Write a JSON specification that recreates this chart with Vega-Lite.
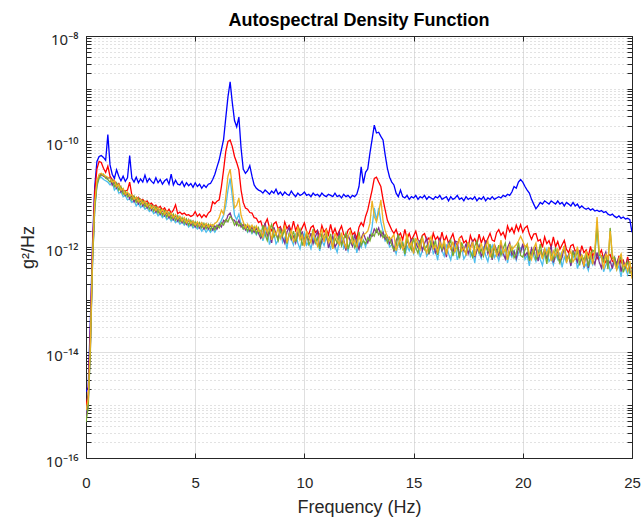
{
"$schema": "https://vega.github.io/schema/vega-lite/v6.json",
"width": 546, "height": 422,
"autosize": {"type": "none"},
"padding": {"left": 86, "top": 36, "right": 12, "bottom": 59},
"background": "white",
"config": {"view": {"stroke": "#262626", "strokeWidth": 1}, "font": "Liberation Sans"},
"title": {"text": "Autospectral Density Function", "font": "Liberation Sans", "fontSize": 18, "fontWeight": "bold", "color": "#000000", "offset": 3, "dy": 15, "baseline": "alphabetic", "anchor": "middle"},
"data": {"values": [
{"f":0.0,"s1":0.0018e-12,"s2":0.0010e-12,"s3":0.0007e-12,"s4":0.0006e-12,"s5":0.00048e-12,"s6":0.0008e-12},
{"f":0.1,"s1":0.0022e-12,"s2":0.0016e-12,"s3":0.0012e-12,"s4":0.0011e-12,"s5":0.0009e-12,"s6":0.0013e-12},
{"f":0.2,"s1":0.04e-12,"s2":0.025e-12,"s3":0.015e-12,"s4":0.012e-12,"s5":0.01e-12,"s6":0.014e-12},
{"f":0.3,"s1":1.2e-12,"s2":0.9e-12,"s3":0.5e-12,"s4":0.6e-12,"s5":0.5e-12,"s6":0.7e-12},
{"f":0.4,"s1":14e-12,"s2":11e-12,"s3":5e-12,"s4":6e-12,"s5":5.5e-12,"s6":7e-12},
{"f":0.5,"s1":42e-12,"s2":30e-12,"s3":14e-12,"s4":16e-12,"s5":15e-12,"s6":18e-12},
{"f":0.6,"s1":52e-12,"s2":42e-12,"s3":20e-12,"s4":22e-12,"s5":21e-12,"s6":24e-12},
{"f":0.7,"s1":54e-12,"s2":40e-12,"s3":21e-12,"s4":24e-12,"s5":23e-12,"s6":25e-12},
{"f":0.8,"s1":50e-12,"s2":31e-12,"s3":19e-12,"s4":22e-12,"s5":24e-12,"s6":23e-12},
{"f":0.9,"s1":44e-12,"s2":26e-12,"s3":18e-12,"s4":21e-12,"s5":20e-12,"s6":22e-12},
{"f":1.0,"s1":135e-12,"s2":34e-12,"s3":17e-12,"s4":20e-12,"s5":19e-12,"s6":21e-12},
{"f":1.1,"s1":36e-12,"s2":22e-12,"s3":15e-12,"s4":21e-12,"s5":17e-12,"s6":20e-12},
{"f":1.2,"s1":24e-12,"s2":19e-12,"s3":17e-12,"s4":15e-12,"s5":19e-12,"s6":17e-12},
{"f":1.3,"s1":20e-12,"s2":18e-12,"s3":12e-12,"s4":17e-12,"s5":14e-12,"s6":18e-12},
{"f":1.4,"s1":29e-12,"s2":15e-12,"s3":13.5e-12,"s4":13e-12,"s5":16.5e-12,"s6":14e-12},
{"f":1.5,"s1":22e-12,"s2":16e-12,"s3":10.5e-12,"s4":15.5e-12,"s5":12e-12,"s6":15.5e-12},
{"f":1.6,"s1":18e-12,"s2":13e-12,"s3":11e-12,"s4":11e-12,"s5":14e-12,"s6":12e-12},
{"f":1.7,"s1":22e-12,"s2":12e-12,"s3":9e-12,"s4":12.5e-12,"s5":10e-12,"s6":13e-12},
{"f":1.8,"s1":17.5e-12,"s2":11.5e-12,"s3":9.5e-12,"s4":9.5e-12,"s5":11.5e-12,"s6":10e-12},
{"f":1.9,"s1":20.5e-12,"s2":12e-12,"s3":7.8e-12,"s4":10.5e-12,"s5":9e-12,"s6":11e-12},
{"f":2.0,"s1":54e-12,"s2":17e-12,"s3":8.2e-12,"s4":8.2e-12,"s5":10e-12,"s6":9.2e-12},
{"f":2.1,"s1":20e-12,"s2":9.5e-12,"s3":7e-12,"s4":9.5e-12,"s5":7.8e-12,"s6":9.8e-12},
{"f":2.2,"s1":17e-12,"s2":9e-12,"s3":7.6e-12,"s4":7.2e-12,"s5":9.2e-12,"s6":8e-12},
{"f":2.3,"s1":21e-12,"s2":8e-12,"s3":6e-12,"s4":8.6e-12,"s5":7e-12,"s6":8.8e-12},
{"f":2.4,"s1":16.5e-12,"s2":8.8e-12,"s3":6.8e-12,"s4":6.6e-12,"s5":8.4e-12,"s6":7.2e-12},
{"f":2.5,"s1":19.5e-12,"s2":7.5e-12,"s3":5.6e-12,"s4":8e-12,"s5":6.4e-12,"s6":8e-12},
{"f":2.6,"s1":17e-12,"s2":8e-12,"s3":6.2e-12,"s4":6e-12,"s5":7.6e-12,"s6":6.6e-12},
{"f":2.7,"s1":23e-12,"s2":7e-12,"s3":5.2e-12,"s4":7.2e-12,"s5":5.8e-12,"s6":7.4e-12},
{"f":2.8,"s1":17e-12,"s2":7.5e-12,"s3":5.6e-12,"s4":5.5e-12,"s5":6.8e-12,"s6":5.9e-12},
{"f":2.9,"s1":20e-12,"s2":6.4e-12,"s3":4.7e-12,"s4":6.6e-12,"s5":5.2e-12,"s6":6.6e-12},
{"f":3.0,"s1":17.5e-12,"s2":6.8e-12,"s3":5.1e-12,"s4":5e-12,"s5":6.2e-12,"s6":5.4e-12},
{"f":3.1,"s1":16e-12,"s2":5.9e-12,"s3":4.3e-12,"s4":6e-12,"s5":4.8e-12,"s6":6e-12},
{"f":3.2,"s1":20.5e-12,"s2":6.2e-12,"s3":4.7e-12,"s4":4.6e-12,"s5":5.8e-12,"s6":4.9e-12},
{"f":3.3,"s1":16.5e-12,"s2":5.4e-12,"s3":3.9e-12,"s4":5.5e-12,"s5":4.4e-12,"s6":5.6e-12},
{"f":3.4,"s1":19e-12,"s2":5.9e-12,"s3":4.3e-12,"s4":4.2e-12,"s5":5.3e-12,"s6":4.5e-12},
{"f":3.5,"s1":15.5e-12,"s2":5e-12,"s3":3.6e-12,"s4":5e-12,"s5":4e-12,"s6":5.2e-12},
{"f":3.6,"s1":18e-12,"s2":5.5e-12,"s3":4.0e-12,"s4":3.9e-12,"s5":4.9e-12,"s6":4.2e-12},
{"f":3.7,"s1":19.5e-12,"s2":4.6e-12,"s3":3.3e-12,"s4":4.6e-12,"s5":3.7e-12,"s6":4.8e-12},
{"f":3.8,"s1":15.5e-12,"s2":5.2e-12,"s3":3.7e-12,"s4":3.6e-12,"s5":4.5e-12,"s6":3.9e-12},
{"f":3.9,"s1":24e-12,"s2":4.4e-12,"s3":3.1e-12,"s4":4.3e-12,"s5":3.4e-12,"s6":4.4e-12},
{"f":4.0,"s1":15e-12,"s2":5e-12,"s3":3.4e-12,"s4":3.3e-12,"s5":4.2e-12,"s6":3.6e-12},
{"f":4.1,"s1":18.5e-12,"s2":6.3e-12,"s3":2.9e-12,"s4":4.0e-12,"s5":3.2e-12,"s6":4.1e-12},
{"f":4.2,"s1":15.5e-12,"s2":4.3e-12,"s3":3.2e-12,"s4":3.1e-12,"s5":3.9e-12,"s6":3.4e-12},
{"f":4.3,"s1":15e-12,"s2":4.6e-12,"s3":2.7e-12,"s4":3.7e-12,"s5":3.0e-12,"s6":3.8e-12},
{"f":4.4,"s1":17.5e-12,"s2":4.2e-12,"s3":3.0e-12,"s4":2.9e-12,"s5":3.6e-12,"s6":3.1e-12},
{"f":4.5,"s1":14e-12,"s2":4.4e-12,"s3":2.6e-12,"s4":3.5e-12,"s5":2.8e-12,"s6":3.6e-12},
{"f":4.6,"s1":16.5e-12,"s2":4.0e-12,"s3":2.9e-12,"s4":2.7e-12,"s5":3.4e-12,"s6":2.9e-12},
{"f":4.7,"s1":14.5e-12,"s2":4.1e-12,"s3":2.4e-12,"s4":3.3e-12,"s5":2.6e-12,"s6":3.3e-12},
{"f":4.8,"s1":16e-12,"s2":3.8e-12,"s3":2.7e-12,"s4":2.6e-12,"s5":3.2e-12,"s6":2.8e-12},
{"f":4.9,"s1":13.5e-12,"s2":4.0e-12,"s3":2.3e-12,"s4":3.1e-12,"s5":2.5e-12,"s6":3.1e-12},
{"f":5.0,"s1":16.5e-12,"s2":4.7e-12,"s3":2.5e-12,"s4":2.4e-12,"s5":3.0e-12,"s6":2.6e-12},
{"f":5.1,"s1":14e-12,"s2":3.8e-12,"s3":2.2e-12,"s4":2.9e-12,"s5":2.4e-12,"s6":3.0e-12},
{"f":5.2,"s1":15.5e-12,"s2":4.2e-12,"s3":2.4e-12,"s4":2.3e-12,"s5":2.9e-12,"s6":2.5e-12},
{"f":5.3,"s1":13e-12,"s2":3.6e-12,"s3":2.0e-12,"s4":2.8e-12,"s5":2.3e-12,"s6":2.9e-12},
{"f":5.4,"s1":15e-12,"s2":4.1e-12,"s3":2.3e-12,"s4":2.2e-12,"s5":2.8e-12,"s6":2.4e-12},
{"f":5.5,"s1":13.5e-12,"s2":3.7e-12,"s3":1.9e-12,"s4":2.7e-12,"s5":2.2e-12,"s6":2.8e-12},
{"f":5.6,"s1":15.5e-12,"s2":4.4e-12,"s3":2.2e-12,"s4":2.2e-12,"s5":2.7e-12,"s6":2.4e-12},
{"f":5.7,"s1":16e-12,"s2":4.8e-12,"s3":1.9e-12,"s4":2.6e-12,"s5":2.1e-12,"s6":2.7e-12},
{"f":5.8,"s1":19e-12,"s2":7.2e-12,"s3":2.2e-12,"s4":2.1e-12,"s5":2.6e-12,"s6":2.5e-12},
{"f":5.9,"s1":24e-12,"s2":6.6e-12,"s3":1.9e-12,"s4":2.5e-12,"s5":2.1e-12,"s6":2.8e-12},
{"f":6.0,"s1":33e-12,"s2":7.4e-12,"s3":2.3e-12,"s4":2.2e-12,"s5":2.6e-12,"s6":3.0e-12},
{"f":6.1,"s1":45e-12,"s2":7.8e-12,"s3":2.7e-12,"s4":2.7e-12,"s5":2.3e-12,"s6":3.6e-12},
{"f":6.2,"s1":70e-12,"s2":14e-12,"s3":3.2e-12,"s4":2.4e-12,"s5":2.9e-12,"s6":5.0e-12},
{"f":6.3,"s1":110e-12,"s2":29e-12,"s3":4.0e-12,"s4":3.2e-12,"s5":2.6e-12,"s6":4.2e-12},
{"f":6.4,"s1":280e-12,"s2":65e-12,"s3":6e-12,"s4":3.0e-12,"s5":3.3e-12,"s6":9e-12},
{"f":6.5,"s1":700e-12,"s2":100e-12,"s3":12e-12,"s4":4.0e-12,"s5":3.0e-12,"s6":22e-12},
{"f":6.6,"s1":1350e-12,"s2":107e-12,"s3":20e-12,"s4":4.4e-12,"s5":3.8e-12,"s6":30e-12},
{"f":6.7,"s1":540e-12,"s2":80e-12,"s3":9e-12,"s4":3.3e-12,"s5":3.4e-12,"s6":14e-12},
{"f":6.8,"s1":250e-12,"s2":52e-12,"s3":4e-12,"s4":3.2e-12,"s5":2.6e-12,"s6":5.5e-12},
{"f":6.9,"s1":190e-12,"s2":40e-12,"s3":3.3e-12,"s4":2.6e-12,"s5":3.0e-12,"s6":6.2e-12},
{"f":7.0,"s1":290e-12,"s2":29e-12,"s3":4.2e-12,"s4":3.2e-12,"s5":2.5e-12,"s6":8.5e-12},
{"f":7.1,"s1":75e-12,"s2":12e-12,"s3":2.6e-12,"s4":2.4e-12,"s5":2.8e-12,"s6":4.0e-12},
{"f":7.2,"s1":30e-12,"s2":7e-12,"s3":2.2e-12,"s4":2.7e-12,"s5":2.2e-12,"s6":3.0e-12},
{"f":7.3,"s1":25e-12,"s2":5.5e-12,"s3":2.4e-12,"s4":2.1e-12,"s5":2.6e-12,"s6":2.3e-12},
{"f":7.4,"s1":28e-12,"s2":5.2e-12,"s3":1.9e-12,"s4":2.5e-12,"s5":2.0e-12,"s6":2.7e-12},
{"f":7.5,"s1":35e-12,"s2":4.5e-12,"s3":2.2e-12,"s4":2.0e-12,"s5":2.5e-12,"s6":2.2e-12},
{"f":7.6,"s1":22e-12,"s2":4.4e-12,"s3":1.8e-12,"s4":2.4e-12,"s5":1.9e-12,"s6":2.6e-12},
{"f":7.7,"s1":15e-12,"s2":3.6e-12,"s3":2.1e-12,"s4":1.9e-12,"s5":2.4e-12,"s6":2.1e-12},
{"f":7.8,"s1":13e-12,"s2":3.5e-12,"s3":1.7e-12,"s4":2.3e-12,"s5":1.8e-12,"s6":2.5e-12},
{"f":7.9,"s1":12e-12,"s2":2.9e-12,"s3":2.0e-12,"s4":1.8e-12,"s5":2.3e-12,"s6":2.0e-12},
{"f":8.0,"s1":11.5e-12,"s2":3.1e-12,"s3":2.07e-12,"s4":1.46e-12,"s5":1.56e-12,"s6":2.05e-12},
{"f":8.1,"s1":10.5e-12,"s2":2.27e-12,"s3":1.31e-12,"s4":1.74e-12,"s5":2.6e-12,"s6":1.52e-12},
{"f":8.2,"s1":12e-12,"s2":2.77e-12,"s3":1.79e-12,"s4":2.87e-12,"s5":1.72e-12,"s6":2.4e-12},
{"f":8.3,"s1":11e-12,"s2":3.39e-12,"s3":2.25e-12,"s4":1.61e-12,"s5":1.32e-12,"s6":1.88e-12},
{"f":8.4,"s1":10e-12,"s2":2.32e-12,"s3":1.11e-12,"s4":1.96e-12,"s5":2.15e-12,"s6":2.55e-12},
{"f":8.5,"s1":11.5e-12,"s2":2.04e-12,"s3":1.49e-12,"s4":1.2e-12,"s5":2.68e-12,"s6":1.36e-12},
{"f":8.6,"s1":10.5e-12,"s2":2.77e-12,"s3":1.86e-12,"s4":2.37e-12,"s5":1.55e-12,"s6":2.1e-12},
{"f":8.7,"s1":12.5e-12,"s2":2.99e-12,"s3":1.14e-12,"s4":1.79e-12,"s5":1.79e-12,"s6":1.69e-12},
{"f":8.8,"s1":10e-12,"s2":2.21e-12,"s3":1.35e-12,"s4":1.41e-12,"s5":1.32e-12,"s6":2.31e-12},
{"f":8.9,"s1":11e-12,"s2":2.43e-12,"s3":2.2e-12,"s4":2.34e-12,"s5":2.08e-12,"s6":1.45e-12},
{"f":9.0,"s1":9.5e-12,"s2":1.8e-12,"s3":1.23e-12,"s4":1.53e-12,"s5":1.62e-12,"s6":1.96e-12},
{"f":9.1,"s1":11e-12,"s2":2.98e-12,"s3":1.5e-12,"s4":1.18e-12,"s5":2.18e-12,"s6":2.47e-12},
{"f":9.2,"s1":10e-12,"s2":2.24e-12,"s3":0.92e-12,"s4":1.91e-12,"s5":1.16e-12,"s6":1.22e-12},
{"f":9.3,"s1":9.5e-12,"s2":2.57e-12,"s3":1.81e-12,"s4":2.38e-12,"s5":1.8e-12,"s6":1.63e-12},
{"f":9.4,"s1":11.5e-12,"s2":1.97e-12,"s3":1.38e-12,"s4":1.38e-12,"s5":1.46e-12,"s6":2.04e-12},
{"f":9.5,"s1":10e-12,"s2":3.1e-12,"s3":1.09e-12,"s4":1.6e-12,"s5":2.0e-12,"s6":1.26e-12},
{"f":9.6,"s1":9e-12,"s2":2.05e-12,"s3":1.81e-12,"s4":1.19e-12,"s5":1.26e-12,"s6":1.49e-12},
{"f":9.7,"s1":10.5e-12,"s2":2.6e-12,"s3":1.19e-12,"s4":1.87e-12,"s5":1.72e-12,"s6":2.46e-12},
{"f":9.8,"s1":9.5e-12,"s2":1.9e-12,"s3":0.92e-12,"s4":1.46e-12,"s5":2.16e-12,"s6":1.38e-12},
{"f":9.9,"s1":10e-12,"s2":2.33e-12,"s3":1.48e-12,"s4":1.98e-12,"s5":1.06e-12,"s6":1.68e-12},
{"f":10.0,"s1":11e-12,"s2":2.86e-12,"s3":1.85e-12,"s4":1.05e-12,"s5":1.43e-12,"s6":1.03e-12},
{"f":10.1,"s1":9.5e-12,"s2":1.96e-12,"s3":1.08e-12,"s4":1.64e-12,"s5":1.79e-12,"s6":2.03e-12},
{"f":10.2,"s1":10e-12,"s2":1.73e-12,"s3":1.26e-12,"s4":1.33e-12,"s5":1.11e-12,"s6":1.55e-12},
{"f":10.3,"s1":9e-12,"s2":2.35e-12,"s3":0.93e-12,"s4":1.83e-12,"s5":1.31e-12,"s6":1.22e-12},
{"f":10.4,"s1":10.5e-12,"s2":2.54e-12,"s3":1.48e-12,"s4":1.16e-12,"s5":2.18e-12,"s6":2.05e-12},
{"f":10.5,"s1":9.5e-12,"s2":1.89e-12,"s3":1.16e-12,"s4":1.57e-12,"s5":1.22e-12,"s6":1.35e-12},
{"f":10.6,"s1":10e-12,"s2":2.08e-12,"s3":1.57e-12,"s4":1.99e-12,"s5":1.49e-12,"s6":1.04e-12},
{"f":10.7,"s1":9e-12,"s2":1.55e-12,"s3":0.84e-12,"s4":0.99e-12,"s5":0.92e-12,"s6":1.7e-12},
{"f":10.8,"s1":10.5e-12,"s2":2.55e-12,"s3":1.31e-12,"s4":1.33e-12,"s5":1.82e-12,"s6":2.13e-12},
{"f":10.9,"s1":9.5e-12,"s2":1.92e-12,"s3":1.06e-12,"s4":1.67e-12,"s5":1.39e-12,"s6":1.24e-12},
{"f":11.0,"s1":9e-12,"s2":2.2e-12,"s3":1.52e-12,"s4":1.93e-12,"s5":1.66e-12,"s6":2.17e-12},
{"f":11.1,"s1":10e-12,"s2":1.69e-12,"s3":1.16e-12,"s4":0.96e-12,"s5":1.3e-12,"s6":1.22e-12},
{"f":11.2,"s1":9.5e-12,"s2":2.67e-12,"s3":0.93e-12,"s4":1.29e-12,"s5":1.77e-12,"s6":1.5e-12},
{"f":11.3,"s1":9e-12,"s2":1.77e-12,"s3":1.55e-12,"s4":1.62e-12,"s5":0.95e-12,"s6":0.92e-12},
{"f":11.4,"s1":10.5e-12,"s2":2.25e-12,"s3":1.03e-12,"s4":1.0e-12,"s5":1.47e-12,"s6":1.83e-12},
{"f":11.5,"s1":9e-12,"s2":1.66e-12,"s3":0.79e-12,"s4":1.2e-12,"s5":1.2e-12,"s6":1.4e-12},
{"f":11.6,"s1":9.5e-12,"s2":2.04e-12,"s3":1.29e-12,"s4":1.98e-12,"s5":1.65e-12,"s6":1.11e-12},
{"f":11.7,"s1":8.5e-12,"s2":2.51e-12,"s3":1.62e-12,"s4":1.12e-12,"s5":1.06e-12,"s6":1.88e-12},
{"f":11.8,"s1":10e-12,"s2":1.73e-12,"s3":0.94e-12,"s4":1.38e-12,"s5":1.44e-12,"s6":1.24e-12},
{"f":11.9,"s1":9e-12,"s2":1.53e-12,"s3":1.11e-12,"s4":0.85e-12,"s5":1.83e-12,"s6":0.97e-12},
{"f":12.0,"s1":9.5e-12,"s2":2.09e-12,"s3":0.83e-12,"s4":1.69e-12,"s5":0.91e-12,"s6":1.57e-12},
{"f":12.1,"s1":8.5e-12,"s2":2.28e-12,"s3":1.32e-12,"s4":1.3e-12,"s5":1.24e-12,"s6":1.98e-12},
{"f":12.2,"s1":9.5e-12,"s2":1.71e-12,"s3":1.05e-12,"s4":1.04e-12,"s5":1.56e-12,"s6":1.16e-12},
{"f":12.3,"s1":9e-12,"s2":1.9e-12,"s3":1.43e-12,"s4":1.74e-12,"s5":0.97e-12,"s6":1.35e-12},
{"f":12.4,"s1":10e-12,"s2":1.43e-12,"s3":0.77e-12,"s4":1.16e-12,"s5":1.16e-12,"s6":1.01e-12},
{"f":12.5,"s1":14e-12,"s2":2.38e-12,"s3":1.2e-12,"s4":0.9e-12,"s5":1.92e-12,"s6":1.61e-12},
{"f":12.6,"s1":33e-12,"s2":2.9e-12,"s3":0.98e-12,"s4":1.47e-12,"s5":1.09e-12,"s6":1.27e-12},
{"f":12.7,"s1":16e-12,"s2":2.5e-12,"s3":1.35e-12,"s4":1.84e-12,"s5":1.33e-12,"s6":1.73e-12},
{"f":12.8,"s1":26e-12,"s2":3.8e-12,"s3":1.0e-12,"s4":1.4e-12,"s5":1.15e-12,"s6":1.8e-12},
{"f":12.9,"s1":30e-12,"s2":5.0e-12,"s3":1.4e-12,"s4":1.2e-12,"s5":1.5e-12,"s6":2.0e-12},
{"f":13.0,"s1":60e-12,"s2":7.8e-12,"s3":1.5e-12,"s4":1.7e-12,"s5":1.3e-12,"s6":2.8e-12},
{"f":13.1,"s1":110e-12,"s2":12e-12,"s3":2.4e-12,"s4":1.6e-12,"s5":1.8e-12,"s6":7.5e-12},
{"f":13.2,"s1":205e-12,"s2":20e-12,"s3":5.5e-12,"s4":2.2e-12,"s5":1.6e-12,"s6":3.8e-12},
{"f":13.3,"s1":145e-12,"s2":21e-12,"s3":3.2e-12,"s4":1.9e-12,"s5":2.2e-12,"s6":3.0e-12},
{"f":13.4,"s1":150e-12,"s2":17e-12,"s3":5.5e-12,"s4":2.3e-12,"s5":1.7e-12,"s6":4.5e-12},
{"f":13.5,"s1":125e-12,"s2":14e-12,"s3":3.0e-12,"s4":1.6e-12,"s5":2.0e-12,"s6":7.8e-12},
{"f":13.6,"s1":107e-12,"s2":8e-12,"s3":2.0e-12,"s4":1.9e-12,"s5":1.5e-12,"s6":3.2e-12},
{"f":13.7,"s1":55e-12,"s2":5.0e-12,"s3":1.3e-12,"s4":1.4e-12,"s5":1.7e-12,"s6":2.0e-12},
{"f":13.8,"s1":31e-12,"s2":3.2e-12,"s3":1.4e-12,"s4":1.6e-12,"s5":1.2e-12,"s6":1.6e-12},
{"f":13.9,"s1":21e-12,"s2":2.6e-12,"s3":1.0e-12,"s4":1.15e-12,"s5":1.5e-12,"s6":1.4e-12},
{"f":14.0,"s1":17e-12,"s2":2.1e-12,"s3":1.1e-12,"s4":1.4e-12,"s5":1.1e-12,"s6":1.5e-12},
{"f":14.1,"s1":15e-12,"s2":1.8e-12,"s3":0.99e-12,"s4":0.82e-12,"s5":0.88e-12,"s6":1.72e-12},
{"f":14.2,"s1":10.5e-12,"s2":2.15e-12,"s3":0.74e-12,"s4":1.33e-12,"s5":1.04e-12,"s6":0.85e-12},
{"f":14.3,"s1":9e-12,"s2":1.6e-12,"s3":1.18e-12,"s4":1.67e-12,"s5":1.73e-12,"s6":1.15e-12},
{"f":14.4,"s1":12e-12,"s2":1.83e-12,"s3":0.93e-12,"s4":0.98e-12,"s5":0.98e-12,"s6":1.45e-12},
{"f":14.5,"s1":9e-12,"s2":1.36e-12,"s3":1.26e-12,"s4":1.14e-12,"s5":1.2e-12,"s6":0.9e-12},
{"f":14.6,"s1":8.5e-12,"s2":2.15e-12,"s3":0.67e-12,"s4":0.85e-12,"s5":0.73e-12,"s6":1.07e-12},
{"f":14.7,"s1":9.5e-12,"s2":1.42e-12,"s3":1.05e-12,"s4":1.34e-12,"s5":1.46e-12,"s6":1.77e-12},
{"f":14.8,"s1":8e-12,"s2":1.81e-12,"s3":0.85e-12,"s4":1.05e-12,"s5":1.11e-12,"s6":0.99e-12},
{"f":14.9,"s1":9e-12,"s2":1.33e-12,"s3":1.17e-12,"s4":1.43e-12,"s5":0.88e-12,"s6":1.22e-12},
{"f":15.0,"s1":8.5e-12,"s2":1.63e-12,"s3":0.75e-12,"s4":0.77e-12,"s5":1.49e-12,"s6":0.75e-12},
{"f":15.1,"s1":9.5e-12,"s2":2.0e-12,"s3":1.02e-12,"s4":1.2e-12,"s5":0.98e-12,"s6":1.48e-12},
{"f":15.2,"s1":8e-12,"s2":1.38e-12,"s3":1.29e-12,"s4":0.97e-12,"s5":0.76e-12,"s6":1.13e-12},
{"f":15.3,"s1":9e-12,"s2":1.22e-12,"s3":0.64e-12,"s4":1.35e-12,"s5":1.24e-12,"s6":0.9e-12},
{"f":15.4,"s1":8.5e-12,"s2":1.66e-12,"s3":0.86e-12,"s4":0.86e-12,"s5":1.55e-12,"s6":1.51e-12},
{"f":15.5,"s1":9.5e-12,"s2":1.8e-12,"s3":1.08e-12,"s4":1.17e-12,"s5":0.9e-12,"s6":1.0e-12},
{"f":15.6,"s1":8e-12,"s2":1.34e-12,"s3":0.67e-12,"s4":1.47e-12,"s5":1.05e-12,"s6":0.77e-12},
{"f":15.7,"s1":9e-12,"s2":1.48e-12,"s3":0.79e-12,"s4":0.73e-12,"s5":0.78e-12,"s6":1.25e-12},
{"f":15.8,"s1":8.5e-12,"s2":1.1e-12,"s3":1.32e-12,"s4":0.99e-12,"s5":1.25e-12,"s6":1.58e-12},
{"f":15.9,"s1":8e-12,"s2":1.83e-12,"s3":0.75e-12,"s4":1.24e-12,"s5":0.98e-12,"s6":0.92e-12},
{"f":16.0,"s1":9e-12,"s2":1.38e-12,"s3":0.91e-12,"s4":0.77e-12,"s5":1.33e-12,"s6":1.07e-12},
{"f":16.1,"s1":8.5e-12,"s2":1.58e-12,"s3":0.56e-12,"s4":0.91e-12,"s5":0.71e-12,"s6":0.8e-12},
{"f":16.2,"s1":9.5e-12,"s2":1.22e-12,"s3":1.1e-12,"s4":1.5e-12,"s5":1.1e-12,"s6":1.26e-12},
{"f":16.3,"s1":8e-12,"s2":1.92e-12,"s3":0.85e-12,"s4":0.85e-12,"s5":0.9e-12,"s6":0.99e-12},
{"f":16.4,"s1":8.5e-12,"s2":1.27e-12,"s3":0.67e-12,"s4":1.04e-12,"s5":1.24e-12,"s6":1.35e-12},
{"f":16.5,"s1":9e-12,"s2":1.61e-12,"s3":1.12e-12,"s4":0.64e-12,"s5":0.78e-12,"s6":0.72e-12},
{"f":16.6,"s1":7.5e-12,"s2":1.18e-12,"s3":0.75e-12,"s4":1.27e-12,"s5":1.07e-12,"s6":1.12e-12},
{"f":16.7,"s1":9e-12,"s2":1.45e-12,"s3":0.57e-12,"s4":0.97e-12,"s5":1.36e-12,"s6":0.92e-12},
{"f":16.8,"s1":8e-12,"s2":1.78e-12,"s3":0.94e-12,"s4":0.77e-12,"s5":0.67e-12,"s6":1.26e-12},
{"f":16.9,"s1":8.5e-12,"s2":1.22e-12,"s3":1.17e-12,"s4":1.29e-12,"s5":0.91e-12,"s6":0.8e-12},
{"f":17.0,"s1":9.5e-12,"s2":1.08e-12,"s3":0.57e-12,"s4":1.24e-12,"s5":1.0e-12,"s6":1.15e-12},
{"f":17.1,"s1":8e-12,"s2":1.48e-12,"s3":0.76e-12,"s4":0.66e-12,"s5":0.61e-12,"s6":1.44e-12},
{"f":17.2,"s1":8.5e-12,"s2":1.61e-12,"s3":0.96e-12,"s4":1.03e-12,"s5":1.22e-12,"s6":0.84e-12},
{"f":17.3,"s1":7.5e-12,"s2":1.2e-12,"s3":0.59e-12,"s4":0.84e-12,"s5":0.93e-12,"s6":0.98e-12},
{"f":17.4,"s1":9e-12,"s2":1.33e-12,"s3":0.71e-12,"s4":1.16e-12,"s5":0.74e-12,"s6":0.73e-12},
{"f":17.5,"s1":8e-12,"s2":0.99e-12,"s3":1.17e-12,"s4":0.74e-12,"s5":1.24e-12,"s6":1.16e-12},
{"f":17.6,"s1":8.5e-12,"s2":1.65e-12,"s3":0.66e-12,"s4":1.01e-12,"s5":0.82e-12,"s6":0.91e-12},
{"f":17.7,"s1":8e-12,"s2":1.25e-12,"s3":0.82e-12,"s4":1.28e-12,"s5":0.64e-12,"s6":1.25e-12},
{"f":17.8,"s1":9e-12,"s2":1.44e-12,"s3":0.5e-12,"s4":0.64e-12,"s5":1.04e-12,"s6":0.67e-12},
{"f":17.9,"s1":7.5e-12,"s2":1.11e-12,"s3":1.0e-12,"s4":0.86e-12,"s5":1.31e-12,"s6":1.05e-12},
{"f":18.0,"s1":8.5e-12,"s2":1.76e-12,"s3":0.77e-12,"s4":1.08e-12,"s5":0.77e-12,"s6":0.85e-12},
{"f":18.1,"s1":8e-12,"s2":1.19e-12,"s3":0.61e-12,"s4":0.67e-12,"s5":0.9e-12,"s6":1.18e-12},
{"f":18.2,"s1":9e-12,"s2":1.54e-12,"s3":1.03e-12,"s4":0.8e-12,"s5":0.67e-12,"s6":0.75e-12},
{"f":18.3,"s1":7.5e-12,"s2":1.16e-12,"s3":0.68e-12,"s4":1.33e-12,"s5":1.07e-12,"s6":1.02e-12},
{"f":18.4,"s1":8.5e-12,"s2":1.45e-12,"s3":0.53e-12,"s4":0.75e-12,"s5":0.84e-12,"s6":1.3e-12},
{"f":18.5,"s1":8e-12,"s2":1.82e-12,"s3":0.86e-12,"s4":0.92e-12,"s5":1.14e-12,"s6":0.64e-12},
{"f":18.6,"s1":9e-12,"s2":1.35e-12,"s3":1.07e-12,"s4":0.57e-12,"s5":0.61e-12,"s6":0.87e-12},
{"f":18.7,"s1":8e-12,"s2":1.28e-12,"s3":0.63e-12,"s4":1.13e-12,"s5":0.96e-12,"s6":1.1e-12},
{"f":18.8,"s1":8.5e-12,"s2":1.87e-12,"s3":0.74e-12,"s4":0.87e-12,"s5":0.78e-12,"s6":0.68e-12},
{"f":18.9,"s1":9e-12,"s2":2.14e-12,"s3":0.55e-12,"s4":0.69e-12,"s5":1.08e-12,"s6":0.82e-12},
{"f":19.0,"s1":8.5e-12,"s2":1.67e-12,"s3":0.88e-12,"s4":1.16e-12,"s5":0.69e-12,"s6":1.35e-12},
{"f":19.1,"s1":9.5e-12,"s2":1.9e-12,"s3":0.69e-12,"s4":0.77e-12,"s5":0.94e-12,"s6":0.77e-12},
{"f":19.2,"s1":9e-12,"s2":1.46e-12,"s3":0.94e-12,"s4":0.59e-12,"s5":1.19e-12,"s6":0.93e-12},
{"f":19.3,"s1":10e-12,"s2":2.5e-12,"s3":0.5e-12,"s4":0.97e-12,"s5":0.59e-12,"s6":0.57e-12},
{"f":19.4,"s1":9.5e-12,"s2":1.95e-12,"s3":0.78e-12,"s4":1.21e-12,"s5":0.79e-12,"s6":1.14e-12},
{"f":19.5,"s1":11e-12,"s2":2.31e-12,"s3":0.64e-12,"s4":0.71e-12,"s5":1.0e-12,"s6":0.87e-12},
{"f":19.6,"s1":14e-12,"s2":1.83e-12,"s3":0.88e-12,"s4":0.82e-12,"s5":0.62e-12,"s6":1.0e-12},
{"f":19.7,"s1":13e-12,"s2":2.6e-12,"s3":0.56e-12,"s4":0.61e-12,"s5":0.74e-12,"s6":1.1e-12},
{"f":19.8,"s1":17e-12,"s2":2.03e-12,"s3":0.76e-12,"s4":0.97e-12,"s5":1.22e-12,"s6":1.3e-12},
{"f":19.9,"s1":19e-12,"s2":2.65e-12,"s3":0.96e-12,"s4":0.77e-12,"s5":0.69e-12,"s6":1.6e-12},
{"f":20.0,"s1":17e-12,"s2":1.91e-12,"s3":1.02e-12,"s4":1.16e-12,"s5":0.64e-12,"s6":1.3e-12},
{"f":20.1,"s1":14e-12,"s2":2.31e-12,"s3":0.58e-12,"s4":0.68e-12,"s5":0.88e-12,"s6":1.0e-12},
{"f":20.2,"s1":12e-12,"s2":2.5e-12,"s3":0.7e-12,"s4":0.79e-12,"s5":1.11e-12,"s6":1.12e-12},
{"f":20.3,"s1":10.5e-12,"s2":1.76e-12,"s3":0.44e-12,"s4":0.59e-12,"s5":0.55e-12,"s6":0.75e-12},
{"f":20.4,"s1":8e-12,"s2":1.4e-12,"s3":0.87e-12,"s4":0.95e-12,"s5":0.75e-12,"s6":0.58e-12},
{"f":20.5,"s1":6.5e-12,"s2":1.76e-12,"s3":0.67e-12,"s4":0.75e-12,"s5":0.94e-12,"s6":0.94e-12},
{"f":20.6,"s1":5.3e-12,"s2":1.8e-12,"s3":0.53e-12,"s4":1.01e-12,"s5":0.58e-12,"s6":1.19e-12},
{"f":20.7,"s1":6e-12,"s2":1.3e-12,"s3":0.88e-12,"s4":0.54e-12,"s5":0.69e-12,"s6":0.69e-12},
{"f":20.8,"s1":7e-12,"s2":1.38e-12,"s3":0.58e-12,"s4":0.84e-12,"s5":1.14e-12,"s6":0.8e-12},
{"f":20.9,"s1":6.5e-12,"s2":0.98e-12,"s3":0.45e-12,"s4":0.68e-12,"s5":0.64e-12,"s6":0.59e-12},
{"f":21.0,"s1":7.5e-12,"s2":1.56e-12,"s3":0.73e-12,"s4":0.93e-12,"s5":0.78e-12,"s6":0.94e-12},
{"f":21.1,"s1":7e-12,"s2":1.16e-12,"s3":0.91e-12,"s4":0.59e-12,"s5":0.48e-12,"s6":0.74e-12},
{"f":21.2,"s1":6.5e-12,"s2":1.32e-12,"s3":0.53e-12,"s4":0.81e-12,"s5":0.96e-12,"s6":1.0e-12},
{"f":21.3,"s1":7.5e-12,"s2":0.99e-12,"s3":0.62e-12,"s4":1.02e-12,"s5":0.73e-12,"s6":0.54e-12},
{"f":21.4,"s1":7e-12,"s2":1.55e-12,"s3":0.46e-12,"s4":0.51e-12,"s5":0.58e-12,"s6":0.84e-12},
{"f":21.5,"s1":6.5e-12,"s2":1.01e-12,"s3":0.73e-12,"s4":0.68e-12,"s5":0.97e-12,"s6":0.68e-12},
{"f":21.6,"s1":7.5e-12,"s2":1.27e-12,"s3":0.58e-12,"s4":0.86e-12,"s5":0.64e-12,"s6":0.94e-12},
{"f":21.7,"s1":6.5e-12,"s2":0.91e-12,"s3":0.78e-12,"s4":0.53e-12,"s5":0.49e-12,"s6":0.59e-12},
{"f":21.8,"s1":7e-12,"s2":1.1e-12,"s3":0.41e-12,"s4":0.63e-12,"s5":0.8e-12,"s6":0.8e-12},
{"f":21.9,"s1":6e-12,"s2":1.33e-12,"s3":0.65e-12,"s4":1.04e-12,"s5":1.0e-12,"s6":1.02e-12},
{"f":22.0,"s1":7e-12,"s2":0.9e-12,"s3":0.52e-12,"s4":0.58e-12,"s5":0.58e-12,"s6":0.5e-12},
{"f":22.1,"s1":6.5e-12,"s2":0.78e-12,"s3":0.72e-12,"s4":0.71e-12,"s5":0.68e-12,"s6":0.67e-12},
{"f":22.2,"s1":6e-12,"s2":1.06e-12,"s3":0.46e-12,"s4":0.44e-12,"s5":0.5e-12,"s6":0.84e-12},
{"f":22.3,"s1":7e-12,"s2":1.12e-12,"s3":0.62e-12,"s4":0.86e-12,"s5":0.8e-12,"s6":0.52e-12},
{"f":22.4,"s1":6e-12,"s2":0.82e-12,"s3":0.78e-12,"s4":0.66e-12,"s5":0.62e-12,"s6":0.62e-12},
{"f":22.5,"s1":6.5e-12,"s2":0.89e-12,"s3":0.39e-12,"s4":0.52e-12,"s5":0.85e-12,"s6":1.02e-12},
{"f":22.6,"s1":5.5e-12,"s2":0.65e-12,"s3":0.52e-12,"s4":0.87e-12,"s5":0.45e-12,"s6":0.58e-12},
{"f":22.7,"s1":6e-12,"s2":1.06e-12,"s3":0.65e-12,"s4":0.57e-12,"s5":0.7e-12,"s6":0.7e-12},
{"f":22.8,"s1":5.5e-12,"s2":0.78e-12,"s3":0.4e-12,"s4":0.44e-12,"s5":0.57e-12,"s6":0.43e-12},
{"f":22.9,"s1":5.2e-12,"s2":0.88e-12,"s3":0.48e-12,"s4":0.72e-12,"s5":0.78e-12,"s6":0.85e-12},
{"f":23.0,"s1":5.5e-12,"s2":0.66e-12,"s3":0.36e-12,"s4":0.4e-12,"s5":0.43e-12,"s6":0.62e-12},
{"f":23.1,"s1":5e-12,"s2":1.03e-12,"s3":0.57e-12,"s4":0.79e-12,"s5":0.7e-12,"s6":0.77e-12},
{"f":23.2,"s1":5.3e-12,"s2":0.67e-12,"s3":0.46e-12,"s4":0.6e-12,"s5":0.87e-12,"s6":0.47e-12},
{"f":23.3,"s1":4.8e-12,"s2":0.83e-12,"s3":0.7e-12,"s4":0.47e-12,"s5":0.8e-12,"s6":0.9e-12},
{"f":23.4,"s1":5e-12,"s2":0.6e-12,"s3":2.8e-12,"s4":0.79e-12,"s5":2.4e-12,"s6":3.7e-12},
{"f":23.5,"s1":4.7e-12,"s2":0.72e-12,"s3":0.6e-12,"s4":0.52e-12,"s5":0.7e-12,"s6":0.8e-12},
{"f":23.6,"s1":4.9e-12,"s2":0.87e-12,"s3":0.67e-12,"s4":0.4e-12,"s5":0.68e-12,"s6":0.63e-12},
{"f":23.7,"s1":4.5e-12,"s2":0.59e-12,"s3":0.34e-12,"s4":0.64e-12,"s5":0.53e-12,"s6":0.38e-12},
{"f":23.8,"s1":4.7e-12,"s2":0.51e-12,"s3":0.45e-12,"s4":0.8e-12,"s5":0.72e-12,"s6":0.75e-12},
{"f":23.9,"s1":4.2e-12,"s2":0.68e-12,"s3":0.55e-12,"s4":0.46e-12,"s5":0.38e-12,"s6":0.57e-12},
{"f":24.0,"s1":4e-12,"s2":0.72e-12,"s3":0.35e-12,"s4":0.54e-12,"s5":2.3e-12,"s6":2.0e-12},
{"f":24.1,"s1":4.2e-12,"s2":0.53e-12,"s3":0.4e-12,"s4":0.39e-12,"s5":0.6e-12,"s6":0.74e-12},
{"f":24.2,"s1":3.8e-12,"s2":0.57e-12,"s3":0.66e-12,"s4":0.62e-12,"s5":0.64e-12,"s6":0.49e-12},
{"f":24.3,"s1":3.6e-12,"s2":0.42e-12,"s3":0.37e-12,"s4":0.48e-12,"s5":0.4e-12,"s6":0.37e-12},
{"f":24.4,"s1":3.9e-12,"s2":0.68e-12,"s3":0.44e-12,"s4":0.64e-12,"s5":0.54e-12,"s6":0.6e-12},
{"f":24.5,"s1":3.5e-12,"s2":0.5e-12,"s3":0.27e-12,"s4":0.34e-12,"s5":0.68e-12,"s6":0.74e-12},
{"f":24.6,"s1":3.7e-12,"s2":0.56e-12,"s3":0.52e-12,"s4":0.52e-12,"s5":0.33e-12,"s6":0.42e-12},
{"f":24.7,"s1":3.4e-12,"s2":0.42e-12,"s3":0.39e-12,"s4":0.41e-12,"s5":0.43e-12,"s6":0.48e-12},
{"f":24.8,"s1":3.5e-12,"s2":0.65e-12,"s3":0.3e-12,"s4":0.55e-12,"s5":0.53e-12,"s6":0.35e-12},
{"f":24.9,"s1":3.3e-12,"s2":0.42e-12,"s3":0.49e-12,"s4":0.34e-12,"s5":0.32e-12,"s6":0.54e-12},
{"f":25.0,"s1":1.9e-12,"s2":0.4e-12,"s3":0.3e-12,"s4":0.35e-12,"s5":0.33e-12,"s6":0.25e-12}
]},
"transform": [{"fold": ["s1","s2","s3","s4","s5","s6"], "as": ["series","psd"]}],
"layer": [
{
"mark": {"type": "line", "strokeWidth": 1.3, "clip": true},
"encoding": {
"x": {"field": "f", "type": "quantitative", "scale": {"domain": [0, 25], "nice": false, "zero": false},
"axis": {"orient": "bottom", "values": [0,5,10,15,20,25], "title": "Frequency (Hz)", "titleFont": "Liberation Sans", "titleFontSize": 18, "titleFontWeight": "normal", "titleColor": "#262626", "titlePadding": 8,
"labelFont": "Liberation Sans", "labelFontSize": 15, "labelColor": "#262626", "labelPadding": 22, "labelFlush": false, "labelOverlap": false, "labelBound": false,
"tickSize": -5, "tickColor": "#262626", "domainColor": "#262626", "grid": true, "gridColor": "#dfdfdf", "gridWidth": 1}},
"y": {"field": "psd", "type": "quantitative", "scale": {"type": "log", "domain": [1e-16, 1e-8], "nice": false},
"axis": {"orient": "left", "values": [1e-16,1e-14,1e-12,1e-10,1e-8],
"labelExpr": "round(log(datum.value)/LN10) == -8 ? '10⁻⁸' : round(log(datum.value)/LN10) == -10 ? '10⁻¹⁰' : round(log(datum.value)/LN10) == -12 ? '10⁻¹²' : round(log(datum.value)/LN10) == -14 ? '10⁻¹⁴' : '10⁻¹⁶'",
"title": "g²/Hz", "titleFont": "Liberation Sans", "titleFontSize": 18, "titleFontWeight": "normal", "titleColor": "#262626", "titlePadding": 8,
"labelFont": "Noto Sans", "labelFontSize": 15, "labelColor": "#262626", "labelPadding": 13, "labelOffset": 3, "labelFlush": false, "labelOverlap": false, "labelBound": false,
"tickSize": -5, "tickColor": "#262626", "domainColor": "#262626", "grid": true, "gridColor": "#dfdfdf", "gridWidth": 1}},
"color": {"field": "series", "type": "nominal", "scale": {"domain": ["s1","s2","s3","s4","s5","s6"], "range": ["#0000FF","#FF0000","#4DBEEE","#7E2F8E","#77AC30","#EDB120"]}, "legend": null}
}
},
{
"mark": {"type": "point", "opacity": 0},
"encoding": {
"x": {"field": "f", "type": "quantitative", "axis": {"orient": "top", "values": [0,5,10,15,20,25], "labels": false, "title": null, "tickSize": -5, "tickColor": "#262626", "domainColor": "#262626", "grid": false}},
"y": {"field": "psd", "type": "quantitative", "axis": {"orient": "right", "values": [1e-16,2e-16,3e-16,4e-16,5e-16,6e-16,7e-16,8e-16,9e-16,1e-15,2e-15,3e-15,4e-15,5e-15,6e-15,7e-15,8e-15,9e-15,1e-14,2e-14,3e-14,4e-14,5e-14,6e-14,7e-14,8e-14,9e-14,1e-13,2e-13,3e-13,4e-13,5e-13,6e-13,7e-13,8e-13,9e-13,1e-12,2e-12,3e-12,4e-12,5e-12,6e-12,7e-12,8e-12,9e-12,1e-11,2e-11,3e-11,4e-11,5e-11,6e-11,7e-11,8e-11,9e-11,1e-10,2e-10,3e-10,4e-10,5e-10,6e-10,7e-10,8e-10,9e-10,1e-9,2e-9,3e-9,4e-9,5e-9,6e-9,7e-9,8e-9,9e-9,1e-8], "labels": false, "title": null, "tickSize": -5, "tickColor": "#262626", "domainColor": "#262626", "grid": false}}
}
},
{
"mark": {"type": "point", "opacity": 0},
"encoding": {
"x": {"field": "f", "type": "quantitative", "axis": null},
"y": {"field": "psd", "type": "quantitative", "axis": {"orient": "left", "values": [2e-16,3e-16,4e-16,5e-16,6e-16,7e-16,8e-16,9e-16,1e-15,2e-15,3e-15,4e-15,5e-15,6e-15,7e-15,8e-15,9e-15,2e-14,3e-14,4e-14,5e-14,6e-14,7e-14,8e-14,9e-14,1e-13,2e-13,3e-13,4e-13,5e-13,6e-13,7e-13,8e-13,9e-13,2e-12,3e-12,4e-12,5e-12,6e-12,7e-12,8e-12,9e-12,1e-11,2e-11,3e-11,4e-11,5e-11,6e-11,7e-11,8e-11,9e-11,2e-10,3e-10,4e-10,5e-10,6e-10,7e-10,8e-10,9e-10,1e-9,2e-9,3e-9,4e-9,5e-9,6e-9,7e-9,8e-9,9e-9], "labels": false, "title": null, "tickSize": -5, "tickColor": "#262626", "domain": false, "grid": true, "gridColor": "#c4c4c4", "gridDash": [1,3], "gridWidth": 1}}
}
}
],
"resolve": {"axis": {"x": "independent", "y": "independent"}}
}
